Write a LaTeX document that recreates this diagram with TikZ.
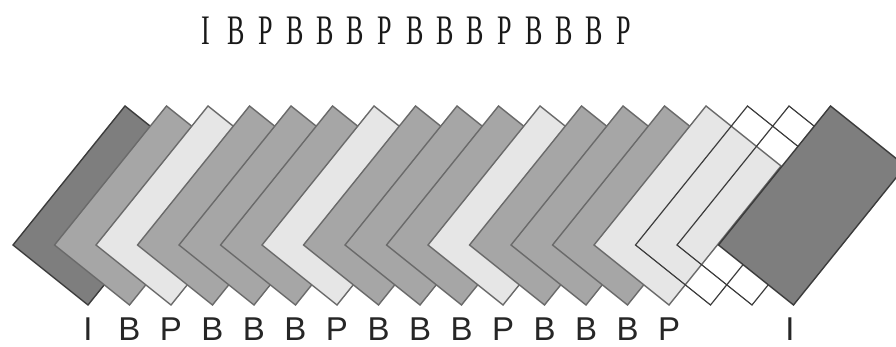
\documentclass[tikz,border=0pt]{standalone}
\usepackage{fontspec}
\setmainfont{Liberation Serif}
\setsansfont{Liberation Sans}
\definecolor{ifill}{HTML}{7E7E7E}
\definecolor{bfill}{HTML}{A6A6A6}
\definecolor{pfill}{HTML}{E6E6E6}
\definecolor{edgedark}{HTML}{3C3C3C}
\definecolor{edgemid}{HTML}{6A6A6A}
\tikzset{
  frmbase/.style={line width=1.4pt, line join=miter},
  fI/.style={frmbase, fill=ifill, draw=edgedark},
  fB/.style={frmbase, fill=bfill, draw=edgemid},
  fP/.style={frmbase, fill=pfill, draw=edgemid},
  fN/.style={frmbase, draw=edgedark, line width=1.2pt},
  toplbl/.style={font=\fontsize{42}{42}\selectfont, text=black!90, inner sep=0pt, anchor=base},
  botlbl/.style={font=\sffamily\fontsize{33}{33}\selectfont, text=black!85, inner sep=0pt, anchor=base},
}
\begin{document}
\begin{tikzpicture}[x=1pt,y=-1pt]
\useasboundingbox (0,0) rectangle (896,347);
\clip (0,0) rectangle (896,347);
% frames
\foreach \t [count=\k from 0] in {I,B,P,B,B,B,P,B,B,B,P,B,B,B,P,N,N,I}{
  \draw[f\t] (13+41.5*\k,245) -- ++(112,-139) -- ++(75,60) -- ++(-112,139) -- cycle;
}
% bottom labels
\foreach \t [count=\k from 0] in {I,B,P,B,B,B,P,B,B,B,P,B,B,B,P}{
  \node[botlbl] (b\k) at (88+41.5*\k,340) {\t};
}
\node[botlbl] (b17) at (790,340) {I};
% top labels
\foreach \t [count=\k from 0] in {I,B,P,B,B,B,P,B,B,B,P,B,B,B,P}{
  \node[toplbl] (t\k) at (206+29.86*\k,45) {\scalebox{0.62}[1]{\t}};
}
\end{tikzpicture}
\end{document}
